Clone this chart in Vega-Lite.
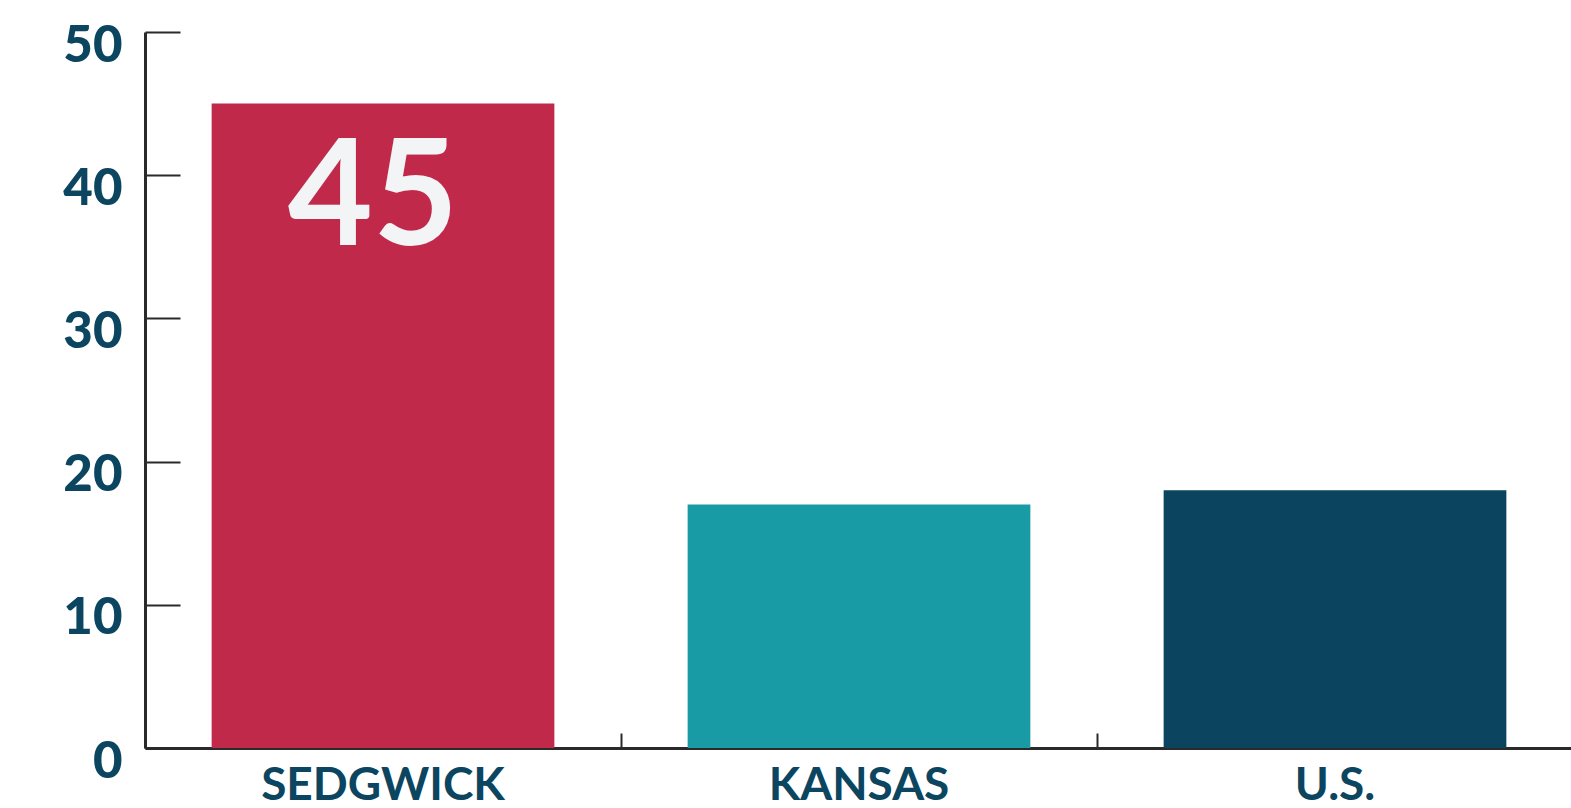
{
  "$schema": "https://vega.github.io/schema/vega-lite/v6.json",
  "width": 1428,
  "height": 716,
  "autosize": {"type": "none"},
  "padding": {"left": 145, "top": 32, "right": 0, "bottom": 60},
  "background": "white",
  "config": {"view": {"stroke": null}},
  "data": {"values": [
    {"region": "SEDGWICK", "value": 45, "label": "45"},
    {"region": "KANSAS", "value": 17, "label": ""},
    {"region": "U.S.", "value": 18, "label": ""}
  ]},
  "encoding": {
    "x": {
      "field": "region", "type": "nominal", "sort": null,
      "scale": {"paddingInner": 0.28, "paddingOuter": 0.14},
      "axis": {
        "title": null, "labelAngle": 0, "bandPosition": -0.1944,
        "domainColor": "#2a2a2a", "domainWidth": 3,
        "tickColor": "#2a2a2a", "tickWidth": 2, "tickSize": -15,
        "labelFont": "Lato", "labelFontWeight": 700, "labelFontSize": 46,
        "labelColor": "#0b4560", "labelBaseline": "alphabetic", "labelPadding": 66,
        "labelLimit": 0
      }
    },
    "y": {
      "field": "value", "type": "quantitative",
      "scale": {"domain": [0, 50]},
      "axis": {
        "title": null, "values": [0, 10, 20, 30, 40, 50], "grid": false,
        "domainColor": "#2a2a2a", "domainWidth": 3,
        "tickColor": "#2a2a2a", "tickWidth": 2, "tickSize": -35,
        "labelFont": "Lato", "labelFontWeight": 900, "labelFontSize": 51,
        "labelColor": "#0b4560", "labelPadding": 58, "labelOffset": 14,
        "labelBaseline": "middle"
      }
    }
  },
  "layer": [
    {
      "mark": {"type": "bar"},
      "encoding": {
        "color": {
          "field": "region", "type": "nominal", "legend": null,
          "scale": {"domain": ["SEDGWICK", "KANSAS", "U.S."], "range": ["#c0294a", "#189ba5", "#0b445f"]}
        }
      }
    },
    {
      "mark": {"type": "text", "font": "Lato", "fontWeight": 700, "fontSize": 147, "color": "#f2f4f6", "baseline": "alphabetic", "dy": 141, "dx": -10},
      "encoding": {"text": {"field": "label"}}
    }
  ]
}
